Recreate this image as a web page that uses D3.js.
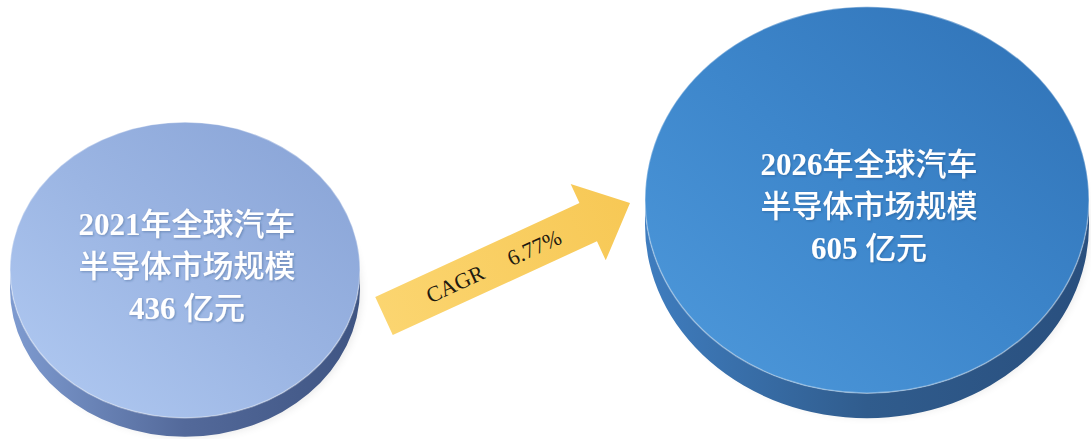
<!DOCTYPE html>
<html>
<head>
<meta charset="utf-8">
<script src="https://cdn.jsdelivr.net/npm/d3@7"></script>
<style>
  html, body { margin: 0; padding: 0; background: #ffffff; }
  #chart { width: 1091px; height: 439px; }
</style>
</head>
<body>
<div id="chart"></div>
<script>
// Data
const years = [2021, 2026];
const values = [436, 605];              // 亿元
const titleLine1 = ["2021年全球汽车", "2026年全球汽车"];
const titleLine2 = ["半导体市场规模", "半导体市场规模"];
const valueLine = ["436 亿元", "605 亿元"];
const cagrLabel = "CAGR";
const cagrValue = "6.77%";

const width = 1091, height = 439;

// layout (not data)
const discLayout = [
    { cy: 270, tilt: 0.845, depth: 19, textDy: -35,
      top: ["#b2cbf3", "#9bb5e3", "#87a2d5"], side: ["#7e9bd0", "#53699a", "#3f5583"] },
    { cy: 200, tilt: 0.87, depth: 25, textDy: -25,
      top: ["#4f9adc", "#3d86cb", "#2f71b5"], side: ["#3f7dbf", "#305c8d", "#294f7e"] }
];

const svg = d3.select("#chart").append("svg")
    .attr("width", width)
    .attr("height", height)
    .attr("viewBox", `0 0 ${width} ${height}`);

const defs = svg.append("defs");

// scales: centre x by year, horizontal radius by value
const x = d3.scalePoint()
    .domain(years)
    .range([185, 867]);

const r = d3.scaleLinear()
    .domain([436, 605])
    .range([175, 222]);

// soft shadow filter
defs.append("filter").attr("id", "blur").attr("x", "-20%").attr("y", "-50%").attr("width", "140%").attr("height", "200%")
    .append("feGaussianBlur").attr("stdDeviation", 5);

defs.append("filter").attr("id", "txtShadow")
    .append("feDropShadow").attr("dx", 1).attr("dy", 1).attr("stdDeviation", 1)
    .attr("flood-color", "#1b3a66").attr("flood-opacity", 0.35);

discLayout.forEach((L, i) => {
    const gTop = defs.append("linearGradient").attr("id", "top" + i)
        .attr("x1", "0%").attr("y1", "100%").attr("x2", "100%").attr("y2", "0%");
    L.top.forEach((c, k) => gTop.append("stop").attr("offset", (k / (L.top.length - 1) * 100) + "%").attr("stop-color", c));

    const gSide = defs.append("linearGradient").attr("id", "side" + i)
        .attr("x1", "0%").attr("y1", "0%").attr("x2", "100%").attr("y2", "0%");
    L.side.forEach((c, k) => gSide.append("stop").attr("offset", (k / (L.side.length - 1) * 100) + "%").attr("stop-color", c));
});

// Arrow gradient
const ag = defs.append("linearGradient").attr("id", "arrowGrad")
    .attr("x1", "0%").attr("y1", "0%").attr("x2", "100%").attr("y2", "0%");
ag.append("stop").attr("offset", "0%").attr("stop-color", "#fbd570");
ag.append("stop").attr("offset", "100%").attr("stop-color", "#f7c855");

// Discs
const discs = svg.selectAll(".disc")
    .data(years.map((y, i) => ({ year: y, value: values[i], i })))
    .join("g")
    .attr("class", "disc");

discs.each(function (d) {
    const g = d3.select(this);
    const L = discLayout[d.i];
    const cx = x(d.year);
    const rx = r(d.value);
    const ry = rx * L.tilt;
    const cy = L.cy;
    const dep = L.depth;

    // shadow
    g.append("ellipse")
        .attr("cx", cx + 4).attr("cy", cy + dep + 2)
        .attr("rx", rx * 0.98).attr("ry", ry * 0.98)
        .attr("fill", "#000").attr("opacity", 0.1)
        .attr("filter", "url(#blur)");

    // side
    g.append("path")
        .attr("d", `M${cx - rx},${cy} A${rx},${ry} 0 0 0 ${cx + rx},${cy} L${cx + rx},${cy + dep} A${rx},${ry} 0 0 1 ${cx - rx},${cy + dep} Z`)
        .attr("fill", `url(#side${d.i})`);

    // top face
    g.append("ellipse")
        .attr("cx", cx).attr("cy", cy)
        .attr("rx", rx).attr("ry", ry)
        .attr("fill", `url(#top${d.i})`)
        .attr("stroke", "rgba(255,255,255,0.35)")
        .attr("stroke-width", 1.5);

    // labels
    const lines = [titleLine1[d.i], titleLine2[d.i], valueLine[d.i]];
    const t = g.append("text")
        .attr("text-anchor", "middle")
        .attr("fill", "#ffffff")
        .attr("filter", "url(#txtShadow)")
        .style("font-size", "31px");
    const baseY = cy + L.textDy;
    lines.forEach((line, k) => {
        const tl = t.append("tspan").attr("x", cx + 2).attr("y", baseY + k * 42);
        // split into latin / CJK runs
        const runs = line.match(/[0-9 .%A-Za-z]+|[^0-9 .%A-Za-z]+/g);
        runs.forEach(run => {
            const latin = /^[0-9 .%A-Za-z]+$/.test(run);
            tl.append("tspan")
                .text(run)
                .attr("xml:space", "preserve")
                .style("font-family", latin ? "'Liberation Serif', 'Times New Roman', serif" : "'Noto Sans CJK SC', sans-serif")
                .style("font-weight", latin ? "bold" : "500");
        });
    });
});

// Arrow
const tail = [384, 316], tip = [630, 203];
const ang = Math.atan2(tip[1] - tail[1], tip[0] - tail[0]) * 180 / Math.PI;
const len = Math.hypot(tip[0] - tail[0], tip[1] - tail[1]);
const shaftHalf = 21, headHalf = 42, headLen = 46;

const arrow = svg.append("g")
    .attr("transform", `translate(${tail[0]},${tail[1]}) rotate(${ang})`);

arrow.append("path")
    .attr("d", d3.line()([
        [0, -shaftHalf], [len - headLen, -shaftHalf], [len - headLen, -headHalf],
        [len, 0], [len - headLen, headHalf], [len - headLen, shaftHalf], [0, shaftHalf]
    ]) + "Z")
    .attr("fill", "url(#arrowGrad)");

arrow.append("text")
    .attr("x", 78).attr("y", 8)
    .attr("text-anchor", "middle")
    .attr("fill", "#1f1a10")
    .style("font-family", "'Liberation Serif', 'Times New Roman', serif")
    .style("font-size", "22px")
    .text(cagrLabel);

arrow.append("text")
    .attr("x", 165).attr("y", 8)
    .attr("text-anchor", "middle")
    .attr("fill", "#1f1a10")
    .style("font-family", "'Liberation Serif', 'Times New Roman', serif")
    .style("font-size", "22px")
    .text(cagrValue);
</script>
</body>
</html>
